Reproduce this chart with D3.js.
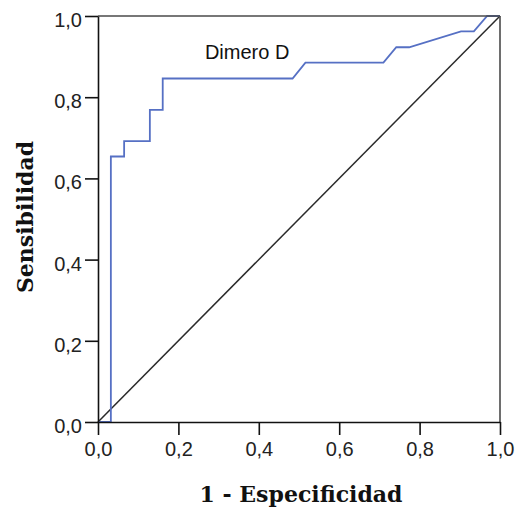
<!DOCTYPE html>
<html>
<head>
<meta charset="utf-8">
<script src="https://cdn.jsdelivr.net/npm/d3@7"></script>
<style>
html,body{margin:0;padding:0;background:#fff;}
svg{display:block;}
</style>
</head>
<body>
<svg id="chart" width="516" height="509"></svg>
<script>
// ROC curve data (1 - Especificidad, Sensibilidad)
const fpr = [0, 0.032, 0.032, 0.065, 0.065, 0.129, 0.129, 0.161, 0.161, 0.484, 0.516, 0.710, 0.742, 0.774, 0.903, 0.935, 0.968, 1.0];
const tpr = [0, 0, 0.654, 0.654, 0.692, 0.692, 0.769, 0.769, 0.846, 0.846, 0.885, 0.885, 0.923, 0.923, 0.962, 0.962, 1.0, 1.0];
const refLine = [[0, 0], [1, 1]];
const tickValues = [0, 0.2, 0.4, 0.6, 0.8, 1.0];
const tickLabels = ["0,0", "0,2", "0,4", "0,6", "0,8", "1,0"];
const seriesName = "Dimero D";
const labelPos = [0.266, 0.895];
const xTitle = "1 - Especificidad";
const yTitle = "Sensibilidad";

const svg = d3.select("#chart");
const L = 98, R = 500, T = 16, B = 422;
const x = d3.scaleLinear().domain([0, 1]).range([L, R]);
const y = d3.scaleLinear().domain([0, 1]).range([B, T]);

// reference diagonal
svg.append("path")
  .attr("d", d3.line().x(d => x(d[0])).y(d => y(d[1]))(refLine))
  .attr("fill", "none").attr("stroke", "#2a2a2a").attr("stroke-width", 1.5);

// ROC curve
const pts = fpr.map((f, i) => [f, tpr[i]]);
svg.append("path")
  .attr("d", d3.line().x(d => x(d[0])).y(d => y(d[1]))(pts))
  .attr("fill", "none").attr("stroke", "#5670c4").attr("stroke-width", 1.8);

// frame (top/right)
svg.append("line").attr("x1", L).attr("x2", R).attr("y1", T).attr("y2", T)
  .attr("stroke", "#4a4a4a").attr("stroke-width", 1.6);
svg.append("line").attr("x1", R).attr("x2", R).attr("y1", T).attr("y2", B)
  .attr("stroke", "#4a4a4a").attr("stroke-width", 1.6);

// axes
const fmt = d => tickLabels[tickValues.indexOf(d)];
const xAxis = svg.append("g").attr("transform", `translate(0,${B})`)
  .call(d3.axisBottom(x).tickValues(tickValues).tickFormat(fmt).tickSize(13).tickPadding(7).tickSizeOuter(0));
const yAxis = svg.append("g").attr("transform", `translate(${L},0)`)
  .call(d3.axisLeft(y).tickValues(tickValues).tickFormat(fmt).tickSize(13).tickPadding(3).tickSizeOuter(0));

[xAxis, yAxis].forEach(g => {
  g.select(".domain").attr("stroke", "#111").attr("stroke-width", 1.6);
  g.selectAll(".tick line").attr("stroke", "#111").attr("stroke-width", 1.6);
  g.selectAll(".tick text").attr("fill", "#222")
    .style("font-family", "'Liberation Sans', Arial, sans-serif").style("font-size", "20px");
});
xAxis.selectAll(".tick text").attr("dy", "0.71em");
yAxis.selectAll(".tick text").attr("dy", "0.72em").attr("y", -4);

// series label
svg.append("text").attr("x", x(labelPos[0])).attr("y", y(labelPos[1]))
  .attr("fill", "#111")
  .style("font-family", "'Liberation Sans', Arial, sans-serif").style("font-size", "20px")
  .text(seriesName);

// axis titles
svg.append("text").attr("x", (L + R) / 2 + 2).attr("y", 502)
  .attr("text-anchor", "middle").attr("fill", "#111")
  .style("font-family", "'DejaVu Serif', serif").style("font-weight", "bold").style("font-size", "22px")
  .text(xTitle);
svg.append("text").attr("transform", `translate(33,${(T + B) / 2 - 2}) rotate(-90)`)
  .attr("text-anchor", "middle").attr("fill", "#111")
  .style("font-family", "'DejaVu Serif', serif").style("font-weight", "bold").style("font-size", "22px")
  .text(yTitle);
</script>
</body>
</html>
